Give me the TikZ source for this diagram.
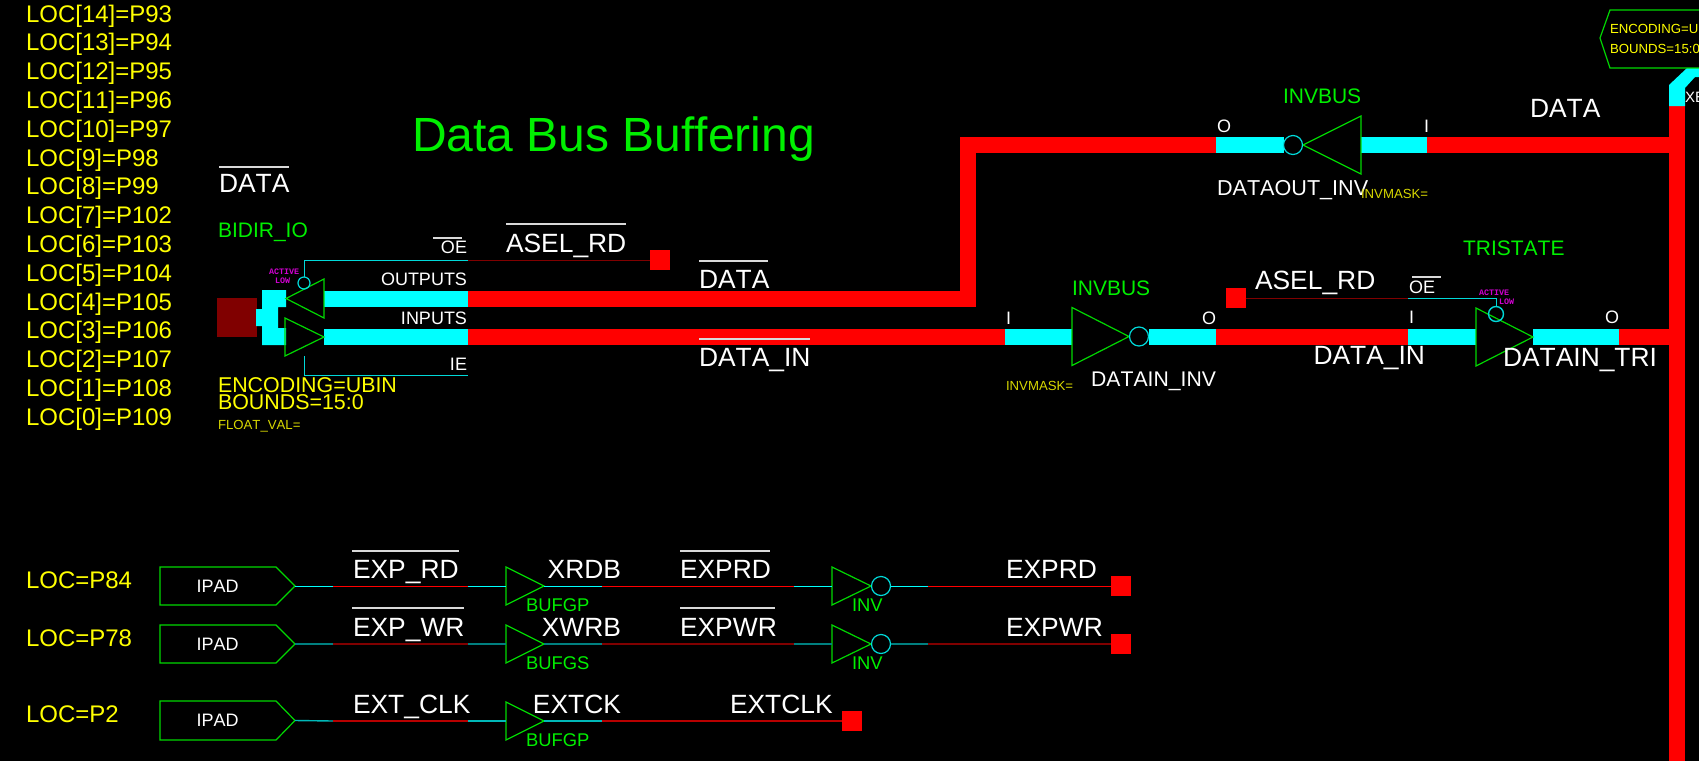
\documentclass[tikz,border=0pt]{standalone}
\usepackage{fontspec}
\setmainfont[Kerning=Off]{Liberation Sans}
\newfontfamily\monob{Liberation Mono}
\definecolor{cy}{HTML}{00FFFF}
\definecolor{rd}{HTML}{FF0000}
\definecolor{gn}{HTML}{00F000}
\definecolor{ye}{HTML}{FFFF00}
\definecolor{dy}{HTML}{D8D800}
\definecolor{mg}{HTML}{D000D0}
\newcommand{\fs}[1]{\fontsize{#1}{#1}\selectfont}
\tikzset{
  x=0.5pt,y=-0.5pt,
  lbl/.style={inner sep=0pt,outer sep=0pt,anchor=base west,text=white},
  lblr/.style={lbl,anchor=base east},
  big/.style={font=\fs{13.2pt}},
  mid/.style={font=\fs{9pt}},
  grn/.style={text=gn,font=\fs{10.5pt}},
  grns/.style={text=gn,font=\fs{9.2pt}},
  yel/.style={text=ye,font=\fs{12pt}},
  yels/.style={text=dy,font=\fs{6.6pt}},
  act/.style={text=mg,font=\fs{4.2pt}\monob\bfseries},
  ovl/.style={draw=white!85!black,line width=0.7pt},
  bus/.style={line width=8pt,line cap=butt,line join=miter},
  rbus/.style={bus,draw=rd},
  cbus/.style={bus,draw=cy},
  tri/.style={draw=gn!90!black,line width=0.6pt,line join=miter},
  bub/.style={circle,draw=cy!85!black,line width=0.6pt,minimum size=9.5pt,inner sep=0pt,outer sep=0pt},
  bubs/.style={bub,minimum size=5pt},
  pin/.style={rectangle,fill=rd,minimum size=10pt,inner sep=0pt,outer sep=0pt},
  cthin/.style={draw=cy!85!black,line width=0.5pt},
  rdark/.style={draw=rd!50!black,line width=0.5pt},
  cw1/.style={draw=cy,line width=0.5pt},
  rw1/.style={draw=rd,line width=0.5pt},
  cw2/.style={draw=cy!50!black,line width=1pt},
  rw2/.style={draw=rd!50!black,line width=1pt},
  cw3/.style={draw=cy!72!black,line width=0.7pt},
  rw3/.style={draw=rd!72!black,line width=0.7pt},
}
% \trib{name}{base x}{y}{tip x}{half height}
\newcommand{\trib}[5]{%
  \draw[tri] (#2,#3-#5) -- (#4,#3) -- (#2,#3+#5) -- cycle;
  \coordinate (#1-b) at (#2,#3);
  \coordinate (#1-t) at (#4,#3);
}
% \ipad{name}{top y}{bottom y}
\newcommand{\ipad}[3]{%
  \draw[tri] (160,#2) -- (276,#2) -- (295,{(#2+#3)/2}) -- (276,#3) -- (160,#3) -- cycle;
  \coordinate (#1-t) at (295,{(#2+#3)/2});
  \node[lbl,font=\fs{9pt}] (#1-l) at (196.5,{(#2+#3)/2+6}) {IPAD};
}
\begin{document}
\begin{tikzpicture}
\useasboundingbox (0,0) rectangle (1699,761);
\fill[black] (0,0) rectangle (1699,761);

% ---- left LOC list
\foreach \n/\p [count=\k from 0] in {14/93,13/94,12/95,11/96,10/97,9/98,8/99,7/102,6/103,5/104,4/105,3/106,2/107,1/108,0/109}
  \node[lbl,yel] (loc\n) at (26,{22+28.8*\k}) {LOC[\n]=P\p};
\node[lbl,yel] (locA) at (26,588) {LOC=P84};
\node[lbl,yel] (locB) at (26,646) {LOC=P78};
\node[lbl,yel] (locC) at (26,722) {LOC=P2};

\node[lbl,text=gn,font=\fs{24pt}] (title) at (412,151) {Data Bus Buffering};

% ---- coordinates of the bus routes
\coordinate (uA) at (324,298.5);
\coordinate (uB) at (468,298.5);
\coordinate (uC) at (967.5,298.5);
\coordinate (uD) at (967.5,145);
\coordinate (uE) at (1216,145);
\coordinate (uF) at (1284,145);
\coordinate (uG) at (1361,145);
\coordinate (uH) at (1427,145);
\coordinate (uJ) at (1677,145);
\coordinate (lA) at (324,337);
\coordinate (lB) at (468,337);
\coordinate (lC) at (1005,337);
\coordinate (lD) at (1072,337);
\coordinate (lE) at (1149,337);
\coordinate (lF) at (1216,337);
\coordinate (lG) at (1408,337);
\coordinate (lH) at (1476,337);
\coordinate (lJ) at (1533,337);
\coordinate (lK) at (1619,337);
\coordinate (lL) at (1677,337);
\coordinate (vT) at (1677,106);
\coordinate (vB) at (1677,761);

% ---- thick buses
\draw[cbus] (uA) -- (uB);
\draw[rbus] (uB) -- (uC) -- (uD) -- (uE);
\draw[cbus] (uE) -- (uF);
\draw[cbus] (uG) -- (uH);
\draw[rbus] (uH) -- (uJ);
\draw[cbus] (lA) -- (lB);
\draw[rbus] (lB) -- (lC);
\draw[cbus] (lC) -- (lD);
\draw[cbus] (lE) -- (lF);
\draw[rbus] (lF) -- (lG);
\draw[cbus] (lG) -- (lH);
\draw[cbus] (lJ) -- (lK);
\draw[rbus] (lK) -- (lL);
\draw[rbus] (vT) -- (vB);
\fill[cy] (1669,85) -- (1687,68) -- (1699,68) -- (1699,77) -- (1695,77) -- (1685,88) -- (1685,106) -- (1669,106) -- cycle;

% ---- bidir block
\fill[rd!50!black] (217,298) rectangle (257,337);
\fill[cy] (256,309) -- (262,309) -- (262,290) -- (286,290) -- (286,307) -- (278,307) -- (278,328) -- (286,328) -- (286,345) -- (262,345) -- (262,326) -- (256,326) -- cycle;
\trib{bo}{324}{298.5}{286}{19.5}
\trib{bi}{285}{337}{324}{19}
\node[bubs,minimum size=6pt] (bob) at (304,283) {};
\coordinate (oeC) at (304,260);
\coordinate (oeD) at (468,260);
\coordinate (ieA) at (304,356);
\coordinate (ieB) at (304,375);
\coordinate (ieC) at (468,375);
\node[pin] (ps1) at (659.5,260) {};
\draw[cthin] (bob) -- (oeC) -- (oeD);
\draw[rdark] (oeD) -- (ps1);
\draw[cthin] (ieA) -- (ieB) -- (ieC);
\node[lbl,act] (a1) at (269,274) {ACTIVE};
\node[lbl,act] (a2) at (275,283) {LOW};
\node[lblr,font=\fs{9pt}] (t1) at (467,253) {OE};
\draw[ovl] (433,238) -- (462,238);
\node[lblr,font=\fs{9pt}] (t2) at (467,285) {OUTPUTS};
\node[lblr,font=\fs{9pt}] (t3) at (467,324) {INPUTS};
\node[lblr,font=\fs{9pt}] (t4) at (467,370) {IE};
\node[lbl,grn] (t5) at (218,237) {BIDIR\_IO};
\node[lbl,yel,font=\fs{10.7pt}] (t6) at (218,392) {ENCODING=UBIN};
\node[lbl,yel,font=\fs{10.7pt}] (t7) at (218,409) {BOUNDS=15:0};
\node[lbl,yels] (t8) at (218,429) {FLOAT\_VAL=};
\node[lbl,big] (t9) at (219,192) {DATA};
\draw[ovl] (219,167) -- (289,167);
\node[lbl,big] (t10) at (506,252) {ASEL\_RD};
\draw[ovl] (506,224) -- (626,224);
\node[lbl,big] (t11) at (699,288) {DATA};
\draw[ovl] (699,261) -- (768,261);
\node[lbl,big] (t12) at (699,366) {DATA\_IN};
\draw[ovl] (699,339) -- (810,339);

% ---- upper INVBUS
\trib{iu}{1361}{145}{1303}{29}
\node[bub] (iub) at (1293,145) {};
\node[lbl,mid] (t13) at (1217,132) {O};
\node[lbl,mid] (t14) at (1424,132) {I};
\node[lbl,grn] (t15) at (1283,103) {INVBUS};
\node[lbl,font=\fs{10.8pt}] (t16) at (1217,195) {DATAOUT\_INV};
\node[lbl,yels] (t17) at (1361,198) {INVMASK=};
\node[lbl,big] (t18) at (1530,117) {DATA};

% ---- lower INVBUS
\trib{il}{1072}{336.5}{1129}{29}
\node[bub] (ilb) at (1139,336.5) {};
\node[lbl,mid] (t19) at (1006,324) {I};
\node[lblr,mid] (t20) at (1216,324) {O};
\node[lbl,grn] (t21) at (1072,295) {INVBUS};
\node[lbl,yels] (t22) at (1006,390) {INVMASK=};
\node[lblr,font=\fs{10.6pt}] (t23) at (1216,386) {DATAIN\_INV};

% ---- tristate
\trib{ts}{1476}{337}{1533}{29}
\node[bubs,minimum size=7.5pt,line width=0.7pt] (tsb) at (1496,314) {};
\node[pin] (ps2) at (1235.5,298) {};
\coordinate (toA) at (1408,298);
\coordinate (toB) at (1496,298);
\draw[rdark] (ps2) -- (toA);
\draw[cthin] (toA) -- (toB) -- (tsb);
\node[lbl,big] (t24) at (1255,289) {ASEL\_RD};
\node[lblr,big] (t25) at (1425,364) {DATA\_IN};
\node[lbl,mid] (t26) at (1409,323) {I};
\node[lblr,mid] (t27) at (1619,323) {O};
\node[lbl,mid] (t28) at (1409,293) {OE};
\draw[ovl] (1412,277) -- (1441,277);
\node[lbl,grn] (t29) at (1463,255) {TRISTATE};
\node[lbl,act] (a3) at (1479,295) {ACTIVE};
\node[lbl,act] (a4) at (1499,304) {LOW};
\node[lbl,big] (t30) at (1503,366) {DATAIN\_TRI};

% ---- hexagon at the top right
\draw[tri] (1699,10) -- (1610,10) -- (1600,38) -- (1610,68) -- (1699,68);
\node[lbl,text=ye,font=\fs{6.6pt}] (t31) at (1610,33) {ENCODING=U};
\node[lbl,text=ye,font=\fs{6.6pt}] (t32) at (1610,53) {BOUNDS=15:0};
\node[lbl,font=\fs{7.5pt}] (t33) at (1685,102) {XE};

% ---- row 1
\ipad{ip1}{567}{605}
\trib{b1}{506}{586}{544}{19}
\trib{n1}{832}{586}{871}{19}
\node[bub] (n1b) at (881,586) {};
\node[pin] (p1) at (1120.5,586) {};
\coordinate (r1a) at (333,586);
\coordinate (r1b) at (468,586);
\coordinate (r1c) at (602,586);
\coordinate (r1d) at (794,586);
\coordinate (r1e) at (928,586);
\draw[cw1] (ip1-t) -- (r1a);
\draw[rw1] (r1a) -- (r1b);
\draw[cw1] (r1b) -- (b1-b);
\draw[cw1] (b1-t) -- (r1c);
\draw[rw1] (r1c) -- (r1d);
\draw[cw1] (r1d) -- (n1-b);
\draw[cw1] (n1b) -- (r1e);
\draw[rw1] (r1e) -- (p1);
\node[lbl,big] (e1) at (353,578) {EXP\_RD};
\draw[ovl] (352,551) -- (459,551);
\node[lblr,big] (e2) at (621,578) {XRDB};
\node[lbl,big] (e3) at (680,578) {EXPRD};
\draw[ovl] (680,551) -- (770,551);
\node[lbl,big] (e4) at (1006,578) {EXPRD};
\node[lbl,grns] (e5) at (526,611) {BUFGP};
\node[lbl,grns] (e6) at (852,611) {INV};

% ---- row 2
\ipad{ip2}{625}{663}
\trib{b2}{506}{644}{544}{19}
\trib{n2}{832}{644}{871}{19}
\node[bub] (n2b) at (881,644) {};
\node[pin] (p2) at (1120.5,644) {};
\coordinate (r2a) at (333,644);
\coordinate (r2b) at (468,644);
\coordinate (r2c) at (602,644);
\coordinate (r2d) at (794,644);
\coordinate (r2e) at (928,644);
\draw[cw2] (ip2-t) -- (r2a);
\draw[rw2] (r2a) -- (r2b);
\draw[cw2] (r2b) -- (b2-b);
\draw[cw2] (b2-t) -- (r2c);
\draw[rw2] (r2c) -- (r2d);
\draw[cw2] (r2d) -- (n2-b);
\draw[cw2] (n2b) -- (r2e);
\draw[rw2] (r2e) -- (p2);
\node[lbl,big] (f1) at (353,636) {EXP\_WR};
\draw[ovl] (352,608) -- (464,608);
\node[lblr,big] (f2) at (621,636) {XWRB};
\node[lbl,big] (f3) at (680,636) {EXPWR};
\draw[ovl] (680,608) -- (775,608);
\node[lbl,big] (f4) at (1006,636) {EXPWR};
\node[lbl,grns] (f5) at (526,669) {BUFGS};
\node[lbl,grns] (f6) at (852,669) {INV};

% ---- row 3
\ipad{ip3}{701}{740}
\trib{b3}{506}{721}{544}{19}
\node[pin] (p3) at (851.5,721) {};
\coordinate (r3a) at (333,721);
\coordinate (r3b) at (468,721);
\coordinate (r3c) at (602,721);
\draw[cw3] (ip3-t) -- (r3a);
\draw[rw3] (r3a) -- (r3b);
\draw[cw3] (r3b) -- (b3-b);
\draw[cw3] (b3-t) -- (r3c);
\draw[rw3] (r3c) -- (p3);
\node[lbl,big] (g1) at (353,713) {EXT\_CLK};
\node[lblr,big] (g2) at (621,713) {EXTCK};
\node[lbl,big] (g3) at (730,713) {EXTCLK};
\node[lbl,grns] (g4) at (526,746) {BUFGP};
\end{tikzpicture}
\end{document}
